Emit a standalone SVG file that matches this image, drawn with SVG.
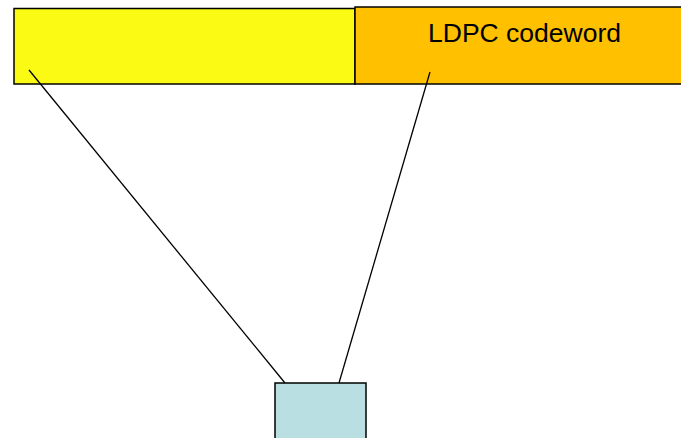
<svg xmlns="http://www.w3.org/2000/svg" width="681" height="438" viewBox="0 0 681 438">
  <style>
    .box { stroke: #000; stroke-width: 1.5; }
    .conn { stroke: #000; stroke-width: 1.3; fill: none; }
    .lbl { font-family: "Liberation Sans", Arial, sans-serif; font-size: 26.5px; fill: #000; }
  </style>
  <rect width="681" height="438" fill="#fff"/>
  <g id="header">
    <rect class="box" x="14" y="8.5" width="341" height="75.5" fill="#fafa14"/>
  </g>
  <g id="codeword">
    <rect class="box" x="355" y="7" width="340" height="77" fill="#ffc000"/>
    <text class="lbl" x="428" y="42">LDPC codeword</text>
  </g>
  <g id="block">
    <rect class="box" x="275" y="383" width="91" height="70" fill="#b9dfe3"/>
  </g>
  <g id="connectors">
    <line class="conn" x1="29" y1="70" x2="285" y2="383"/>
    <line class="conn" x1="430" y1="72" x2="339" y2="383"/>
  </g>
</svg>
